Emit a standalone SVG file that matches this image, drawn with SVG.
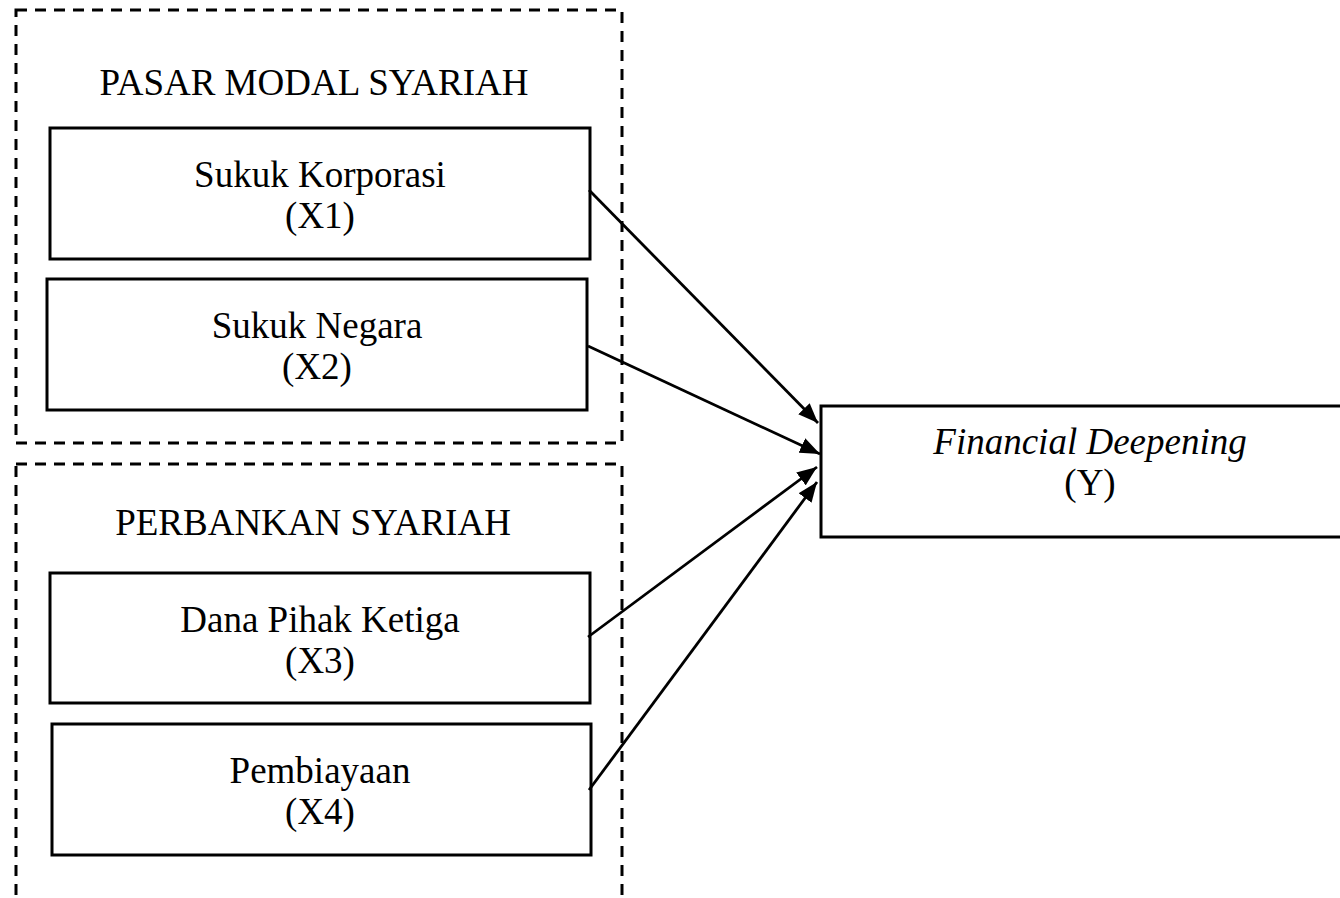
<svg xmlns="http://www.w3.org/2000/svg" width="1340" height="898" viewBox="0 0 1340 898">
<style>
.grp{fill:none;stroke:#000;stroke-width:3;stroke-dasharray:11 8}
.box{fill:#fff;stroke:#000;stroke-width:3}
.t{font-family:"Liberation Serif","Times New Roman",serif;font-size:37px;fill:#000;text-anchor:middle}
.it{font-style:italic}
.con{stroke:#000;stroke-width:2.8;fill:none;marker-end:url(#ahb)}
</style>
<defs>
<marker id="ahb" viewBox="0 0 20 16" refX="20" refY="8" markerWidth="20" markerHeight="16" markerUnits="userSpaceOnUse" orient="auto">
<path d="M0,0 L20,8 L0,16 z" fill="#000"/>
</marker>
</defs>
<rect width="1340" height="898" fill="#fff"/>
<g id="group-pasar">
<rect class="grp" x="16" y="10" width="606" height="433"/>
<text class="t" x="314" y="95">PASAR MODAL SYARIAH</text>
</g>
<g id="group-perbankan">
<rect class="grp" x="16" y="464" width="606" height="436"/>
<text class="t" x="313" y="535">PERBANKAN SYARIAH</text>
</g>
<g id="node-x1">
<rect class="box" x="50" y="128" width="540" height="131"/>
<text class="t" x="320" y="187">Sukuk Korporasi</text>
<text class="t" x="320" y="228">(X1)</text>
</g>
<g id="node-x2">
<rect class="box" x="47" y="279" width="540" height="131"/>
<text class="t" x="317" y="338">Sukuk Negara</text>
<text class="t" x="317" y="379">(X2)</text>
</g>
<g id="node-x3">
<rect class="box" x="50" y="573" width="540" height="130"/>
<text class="t" x="320" y="632">Dana Pihak Ketiga</text>
<text class="t" x="320" y="673">(X3)</text>
</g>
<g id="node-x4">
<rect class="box" x="52" y="724" width="539" height="131"/>
<text class="t" x="320" y="783">Pembiayaan</text>
<text class="t" x="320" y="824">(X4)</text>
</g>
<g id="node-y">
<rect class="box" x="821" y="406" width="530" height="131"/>
<text class="t it" x="1090" y="454">Financial Deepening</text>
<text class="t" x="1090" y="495">(Y)</text>
</g>
<g id="connectors">
<line class="con" x1="589" y1="190" x2="818" y2="423"/>
<line class="con" x1="588" y1="346" x2="820" y2="454"/>
<line class="con" x1="588" y1="637" x2="817" y2="467"/>
<line class="con" x1="589" y1="790" x2="817" y2="482"/>
</g>
</svg>
